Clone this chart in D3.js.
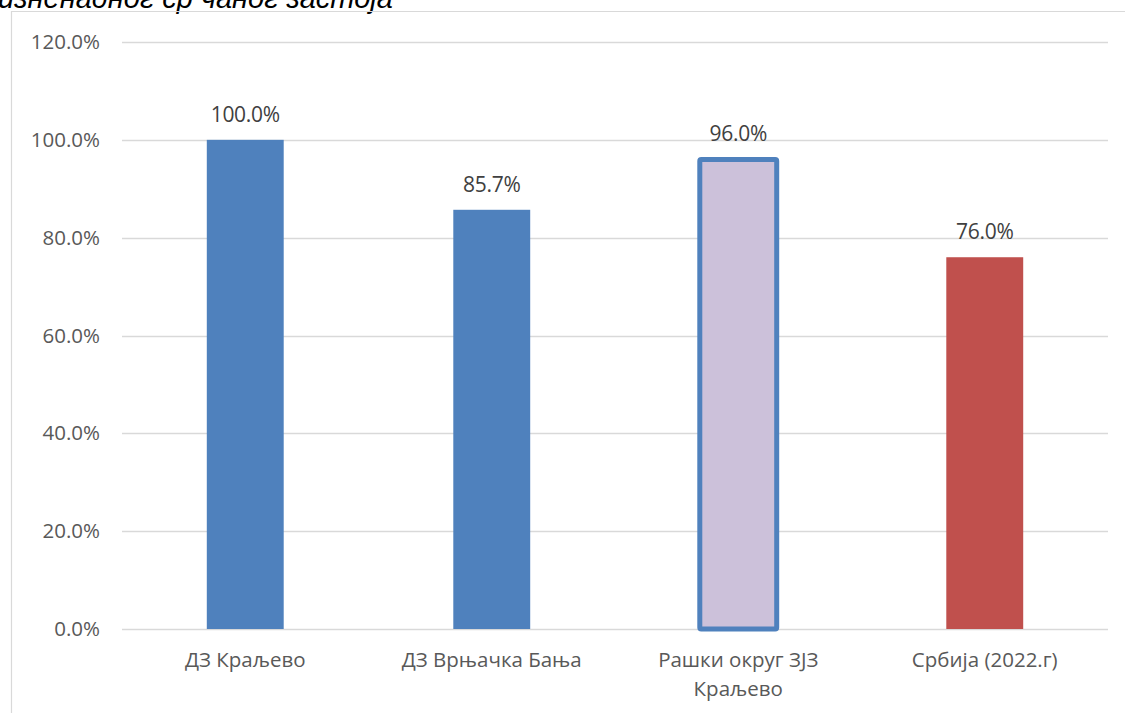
<!DOCTYPE html>
<html>
<head>
<meta charset="utf-8">
<script src="https://cdn.jsdelivr.net/npm/d3@7"></script>
<style>
  html, body { margin: 0; padding: 0; background: #fff; }
  svg { display: block; }
</style>
</head>
<body>
<script>
// Share of cases (percent) by health centre / region
const categories = ["ДЗ Краљево", "ДЗ Врњачка Бања", "Рашки округ ЗЈЗ Краљево", "Србија (2022.г)"];
const categoryLines = [["ДЗ Краљево"], ["ДЗ Врњачка Бања"], ["Рашки округ ЗЈЗ", "Краљево"], ["Србија (2022.г)"]];
const values = [100.0, 85.7, 96.0, 76.0];
const fills = ["#4F81BD", "#4F81BD", "#CCC1DA", "#C0504D"];
const strokes = [null, null, "#4F81BD", null];
const yTicks = [0, 20, 40, 60, 80, 100, 120];
const titleText = "изненадног ср чаног застоја";

const W = 1125, H = 713;
const svg = d3.select("body").append("svg").attr("width", W).attr("height", H);

// Title line running off the top edge
svg.append("text")
  .attr("x", -2).attr("y", 8)
  .attr("font-family", "'Liberation Sans', Arial, sans-serif")
  .attr("font-style", "italic")
  .attr("font-size", 29)
  .attr("fill", "#000")
  .text(titleText);

// Chart area frame (top and left edges)
svg.append("path")
  .attr("d", "M11.5,713 V11.5 H1125")
  .attr("fill", "none").attr("stroke", "#D9D9D9").attr("stroke-width", 1.2);

const plot = { left: 122, right: 1108, top: 42, bottom: 629 };

const x = d3.scaleBand()
  .domain(categories)
  .range([plot.left, plot.right])
  .paddingInner(0.688)
  .paddingOuter(0.344);

const y = d3.scaleLinear().domain([0, 120]).range([plot.bottom, plot.top]);

// Gridlines
svg.append("g")
  .selectAll("line")
  .data(yTicks)
  .join("line")
  .attr("x1", plot.left).attr("x2", plot.right)
  .attr("y1", d => Math.round(y(d)) + 0.5).attr("y2", d => Math.round(y(d)) + 0.5)
  .attr("stroke", "#D9D9D9").attr("stroke-width", 1.3);

// Y axis labels
const yAxis = d3.axisLeft(y).tickValues(yTicks).tickSize(0).tickPadding(0)
  .tickFormat(d => d3.format(".1f")(d) + "%");
const yg = svg.append("g").attr("transform", `translate(${plot.left - 22},0)`).call(yAxis);
yg.select(".domain").remove();
yg.selectAll("text")
  .attr("font-family", "'Open Sans', sans-serif")
  .attr("font-size", 20.5)
  .attr("fill", "#595959");

// Bars
svg.append("g")
  .selectAll("rect")
  .data(values)
  .join("rect")
  .attr("x", (d, i) => x(categories[i]))
  .attr("width", x.bandwidth())
  .attr("y", d => y(d))
  .attr("height", d => y(0) - y(d))
  .attr("fill", (d, i) => fills[i])
  .attr("stroke", (d, i) => strokes[i] || "none")
  .attr("stroke-width", (d, i) => strokes[i] ? 5 : 0)
  .attr("rx", (d, i) => strokes[i] ? 1.5 : 0);

// Value labels
svg.append("g")
  .selectAll("text")
  .data(values)
  .join("text")
  .attr("x", (d, i) => x(categories[i]) + x.bandwidth() / 2)
  .attr("y", (d, i) => y(d) - 18)
  .attr("text-anchor", "middle")
  .attr("font-family", "'Open Sans', sans-serif")
  .attr("font-size", 21)
  .attr("letter-spacing", -0.3)
  .attr("fill", "#404040")
  .text(d => d3.format(".1f")(d) + "%");

// Category labels
const xg = svg.append("g");
categoryLines.forEach((lines, i) => {
  const t = xg.append("text")
    .attr("x", x(categories[i]) + x.bandwidth() / 2)
    .attr("y", 667)
    .attr("text-anchor", "middle")
    .attr("font-family", "'Open Sans', sans-serif")
    .attr("font-size", 20.5)
    .attr("fill", "#595959");
  lines.forEach((ln, j) => {
    t.append("tspan")
      .attr("x", x(categories[i]) + x.bandwidth() / 2)
      .attr("dy", j === 0 ? 0 : 29)
      .text(ln);
  });
});
</script>
</body>
</html>
